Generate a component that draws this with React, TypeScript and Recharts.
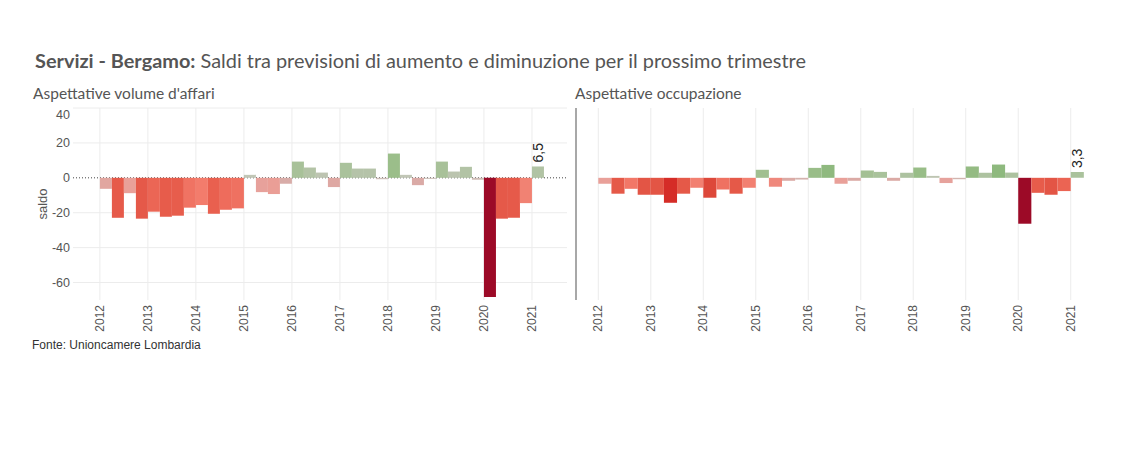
import React from "react";
import { BarChart, Bar, XAxis, YAxis, CartesianGrid, Cell, LabelList } from "recharts";

// trimestri dal 2012 T1 al 2021 T1
const quarterLabels = [
  "2012 T1", "2012 T2", "2012 T3", "2012 T4",
  "2013 T1", "2013 T2", "2013 T3", "2013 T4",
  "2014 T1", "2014 T2", "2014 T3", "2014 T4",
  "2015 T1", "2015 T2", "2015 T3", "2015 T4",
  "2016 T1", "2016 T2", "2016 T3", "2016 T4",
  "2017 T1", "2017 T2", "2017 T3", "2017 T4",
  "2018 T1", "2018 T2", "2018 T3", "2018 T4",
  "2019 T1", "2019 T2", "2019 T3", "2019 T4",
  "2020 T1", "2020 T2", "2020 T3", "2020 T4",
  "2021 T1",
];

const yearTicks = [2012, 2013, 2014, 2015, 2016, 2017, 2018, 2019, 2020, 2021];
const yTicks = [-60, -40, -20, 0, 20, 40];
const gridValues = [-60, -40, -20, 20, 40];

const volumeAffari = [
  -6.3, -22.9, -8.8, -23.4,
  -19.4, -22.3, -21.7, -17.1,
  -15.6, -20.6, -18.3, -17.5,
  1.7, -8.2, -9.3, -3.4,
  9.3, 5.9, 3.0, -5.3,
  8.6, 5.3, 5.3, -0.8,
  13.9, 1.7, -4.2, -0.6,
  9.3, 3.6, 6.3, -1.1,
  -68.3, -23.4, -22.9, -14.5,
  6.5,
];

const occupazione = [
  -3.4, -9.1, -6.3, -9.7,
  -9.7, -14.3, -9.1, -5.7,
  -11.4, -6.7, -9.1, -5.7,
  4.6, -5.1, -1.7, -1.0,
  5.7, 7.4, -3.4, -1.7,
  4.2, 3.4, -1.7, 2.9,
  5.9, 1.1, -3.0, -0.8,
  6.5, 2.9, 7.6, 3.0,
  -26.3, -8.6, -9.7, -7.6,
  3.3,
];

const FONT = "Arial, 'Liberation Sans', sans-serif";
const TITLE_FONT = "Lato, 'Noto Sans', sans-serif";
const TEXT = "#555";

const negStops: [number, string][] = [
  [0, "#c9c3bb"], [0.05, "#d8aca8"], [0.13, "#e9a099"], [0.23, "#f37b6b"],
  [0.3, "#e9604f"], [0.4, "#e05040"], [0.55, "#d42a26"], [1, "#9c0a27"],
];
const posStops: [number, string][] = [
  [0, "#c6c8bc"], [0.05, "#bcc4b0"], [0.12, "#abc29d"], [0.2, "#9cbe8a"],
  [0.3, "#8cb87c"], [1, "#2e7040"],
];

function hex(c: string) {
  return [1, 3, 5].map((i) => parseInt(c.slice(i, i + 2), 16));
}

function ramp(stops: [number, string][], t: number) {
  for (let i = 1; i < stops.length; i++) {
    if (t <= stops[i][0]) {
      const [t0, c0] = stops[i - 1];
      const [t1, c1] = stops[i];
      const k = (t - t0) / (t1 - t0);
      const a = hex(c0), b = hex(c1);
      return `rgb(${a.map((v, j) => Math.round(v + (b[j] - v) * k)).join(",")})`;
    }
  }
  return stops[stops.length - 1][1];
}

function colorFor(v: number, maxAbs: number) {
  const t = Math.min(1, Math.abs(v) / maxAbs);
  return v < 0 ? ramp(negStops, t) : ramp(posStops, t);
}

const fmt = (v: number) => v.toFixed(1).replace(".", ",");

const YearTick = (props: any) => {
  const { x, y, payload } = props;
  return (
    <text
      x={x}
      y={y}
      transform={`rotate(-90 ${x} ${y})`}
      textAnchor="end"
      dominantBaseline="central"
      fontSize={12}
      fontFamily={FONT}
      fill={TEXT}
    >
      {payload.value}
    </text>
  );
};

const ValueTick = (props: any) => {
  const { x, y, payload } = props;
  // Tableau sposta in basso l'etichetta più alta per non tagliarla
  const dy = payload.value === 40 ? 7 : 0;
  return (
    <text
      x={x}
      y={y + dy}
      textAnchor="end"
      dominantBaseline="central"
      fontSize={12.5}
      fontFamily={FONT}
      fill={TEXT}
    >
      {payload.value}
    </text>
  );
};

type PanelProps = {
  values: number[];
  width: number;
  height: number;
  domain: [number, number];
  barSize: number;
  yAxisWidth: number;
  rightMargin: number;
  showTicks: boolean;
};

function Panel({ values, width, height, domain, barSize, yAxisWidth, rightMargin, showTicks }: PanelProps) {
  const data = quarterLabels.map((q, i) => {
    const [yr, tr] = q.split(" T");
    return { q, t: Number(yr) + (Number(tr) - 0.5) / 4, v: values[i] };
  });
  const maxAbs = Math.max(...values.map((v) => Math.abs(v)));
  const last = data.length - 1;

  const renderLabel = (p: any) => {
    if (p.index !== last) return null;
    const cx = p.x + p.width / 2;
    const cy = p.y - 4;
    return (
      <text
        x={cx}
        y={cy}
        transform={`rotate(-90 ${cx} ${cy})`}
        textAnchor="start"
        dominantBaseline="central"
        fontSize={14}
        fontFamily={FONT}
        fill="#222"
      >
        {fmt(p.value)}
      </text>
    );
  };

  return (
    <BarChart
      width={width}
      height={height}
      data={data}
      margin={{ top: 8, right: rightMargin, bottom: 0, left: 0 }}
    >
      <CartesianGrid stroke="#ececec" horizontalValues={gridValues} verticalValues={yearTicks} />
      <CartesianGrid stroke="#444" strokeDasharray="1 2" horizontalValues={[0]} vertical={false} />
      <XAxis
        dataKey="t"
        type="number"
        domain={domain}
        allowDataOverflow
        ticks={yearTicks}
        interval={0}
        tick={<YearTick />}
        tickLine={false}
        axisLine={false}
        tickSize={0}
        tickMargin={5}
        height={40}
      />
      <YAxis
        type="number"
        domain={[-70, 40]}
        allowDataOverflow
        ticks={yTicks}
        interval={0}
        width={yAxisWidth}
        tick={showTicks ? <ValueTick /> : false}
        tickLine={false}
        tickSize={0}
        tickMargin={3}
        axisLine={showTicks ? false : { stroke: "#a8a8a8", strokeWidth: 2 }}
      />
      <Bar dataKey="v" barSize={barSize} isAnimationActive={false}>
        {data.map((d) => (
          <Cell key={d.q} fill={colorFor(d.v, maxAbs)} />
        ))}
        <LabelList dataKey="v" content={renderLabel} />
      </Bar>
    </BarChart>
  );
}

export default function App() {
  return (
    <div style={{ position: "absolute", left: 0, top: 0, width: 1144, height: 463, background: "#fff", overflow: "hidden" }}>
      <svg width={1144} height={463} style={{ position: "absolute", left: 0, top: 0 }}>
        <text x={35} y={68} fontSize={19.9} fontFamily={TITLE_FONT} fill="#555">
          <tspan fontWeight="bold">Servizi - Bergamo:</tspan>
          <tspan> Saldi tra previsioni di aumento e diminuzione per il prossimo trimestre</tspan>
        </text>
        <text x={33} y={99} fontSize={15.5} fontFamily={TITLE_FONT} fill="#555">
          Aspettative volume d'affari
        </text>
        <text x={575} y={99} fontSize={15.5} fontFamily={TITLE_FONT} fill="#555">
          Aspettative occupazione
        </text>
        <text
          x={42}
          y={204}
          transform="rotate(-90 42 204)"
          textAnchor="middle"
          dominantBaseline="central"
          fontSize={13}
          fontFamily={FONT}
          fill={TEXT}
        >
          saldo
        </text>
        <text x={32} y={349} fontSize={12} fontFamily={FONT} fill="#333">
          Fonte: Unioncamere Lombardia
        </text>
      </svg>
      <div style={{ position: "absolute", left: 0, top: 100 }}>
        <Panel
          values={volumeAffari}
          width={580}
          height={240}
          domain={[2011.44, 2021.73]}
          barSize={12}
          yAxisWidth={73}
          rightMargin={13}
          showTicks
        />
      </div>
      <div style={{ position: "absolute", left: 560, top: 100 }}>
        <Panel
          values={occupazione}
          width={560}
          height={240}
          domain={[2011.575, 2021.615]}
          barSize={13.12}
          yAxisWidth={16}
          rightMargin={17}
          showTicks={false}
        />
      </div>
    </div>
  );
}
